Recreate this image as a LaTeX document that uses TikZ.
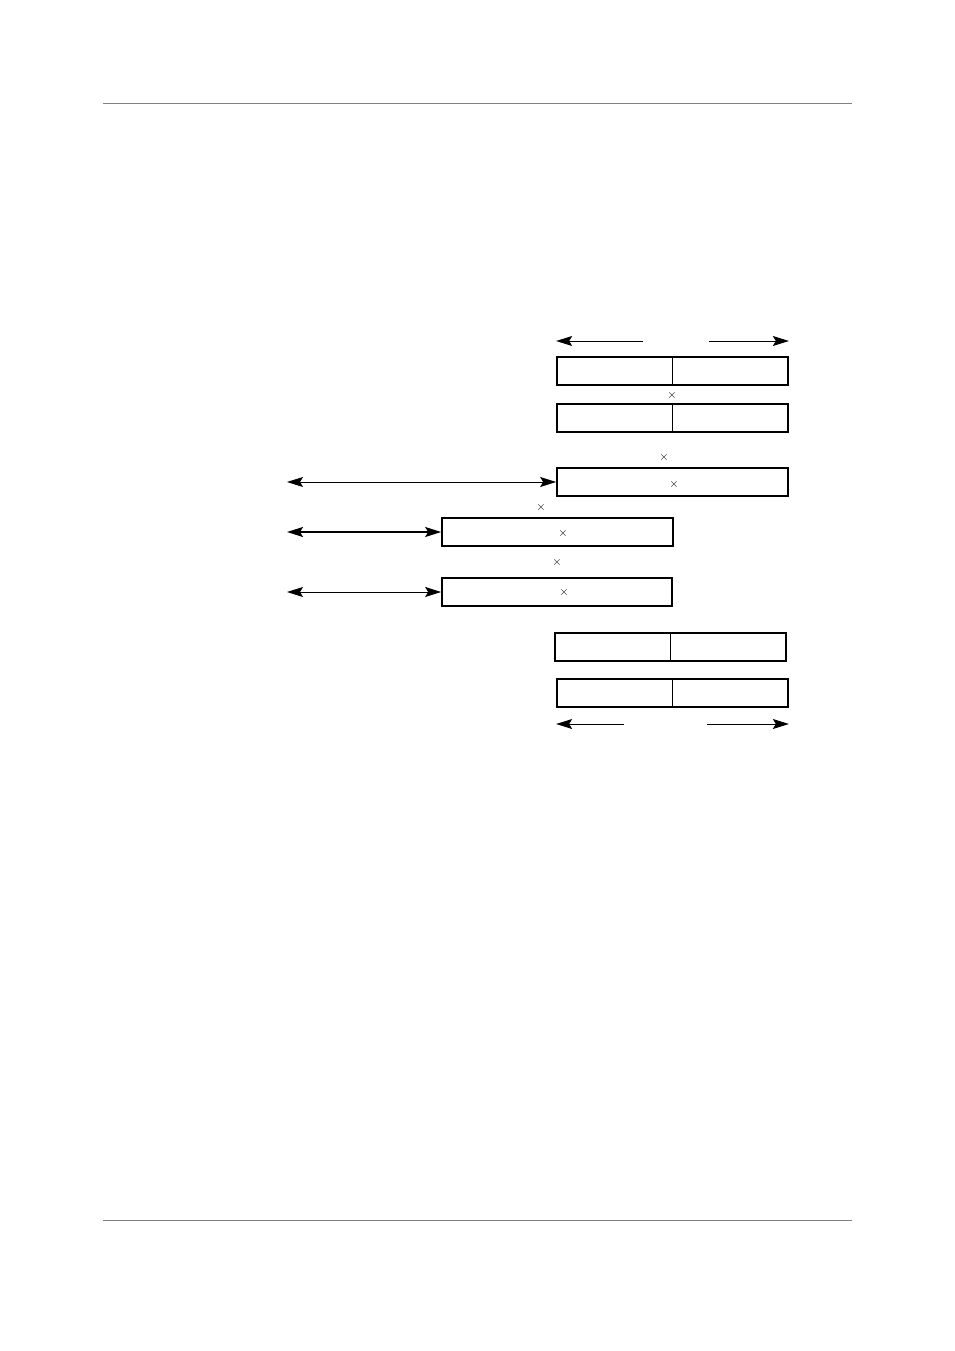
\documentclass[tikz,border=0pt]{standalone}
\usepackage{amsmath}
\usetikzlibrary{arrows.meta}
\newcommand{\drawSplit}[2]{
\draw [line width=#2] (#1.north) -- (#1.south);
}

\begin{document}
\begin{tikzpicture}[x=1pt,y=-1pt,>={Stealth[length=16pt,width=10pt,inset=3pt]},
  cell/.style={draw,line width=1.7pt,minimum width=231pt,minimum height=28pt,inner sep=0pt},
  cross/.style={inner sep=0pt,font=\large},
  span/.style={<->,line width=0.9pt}]
\useasboundingbox (0,0) rectangle (954,1351);
%
\draw [gray,line width=1pt] (103,104) -- (852,104);
\draw [gray,line width=1pt] (103,1220) -- (852,1220);
%
\coordinate (tl) at (643,341);\coordinate (tr) at (709,341);
\node (r1) at (672.5,371) [cell] {};\drawSplit{r1}{1.7pt}
\node (x1) at (672,395) [cross] {$\times$};
\node (r2) at (672.5,418) [cell] {};\drawSplit{r2}{1.7pt}
\draw [->,line width=0.9pt] (tl) -- (tl -| r1.west);
\draw [->,line width=0.9pt] (tr) -- (tr -| r1.east);
%
\node (x2) at (664,457) [cross] {$\times$};
\node (r3) at (672.5,482) [cell] {};\node (x3) at (674,484) [cross] {$\times$};
\coordinate (a3) at (287,482);
\draw [span] (a3) -- (r3.west);
%
\node (x4) at (541,507) [cross] {$\times$};
\node (r4) at (557.5,532) [cell] {};\node (x5) at (563,533) [cross] {$\times$};
\coordinate (a4) at (287,532);
\draw [span,line width=1.8pt] (a4) -- (r4.west);
%
\node (x6) at (557,562) [cross] {$\times$};
\node (r5) at (557,592) [cell,minimum width=230pt] {};\node (x7) at (564,592) [cross] {$\times$};
\coordinate (a5) at (287,592);
\draw [span] (a5) -- (r5.west);
%
\node (r6) at (670.5,647) [cell] {};\drawSplit{r6}{0.9pt}
\node (r7) at (672.5,693) [cell] {};\drawSplit{r7}{1.7pt}
\coordinate (bl) at (624,724);\coordinate (br) at (707,724);
\draw [->,line width=0.9pt] (bl) -- (bl -| r7.west);
\draw [->,line width=0.9pt] (br) -- (br -| r7.east);
\end{tikzpicture}
\end{document}
